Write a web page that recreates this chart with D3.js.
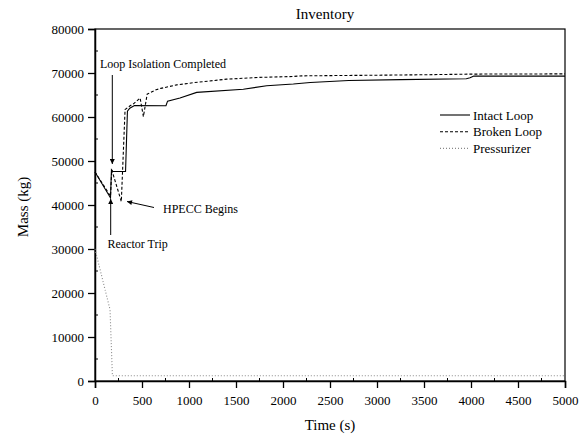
<!DOCTYPE html>
<html><head><meta charset="utf-8">
<script src="https://cdn.jsdelivr.net/npm/d3@7"></script>
<style>body{margin:0;background:#fff}svg{display:block}svg text{font-family:"Liberation Serif",serif !important;fill:#000}</style>
</head><body>
<script>
const title = "Inventory";
const xLabel = "Time (s)";
const yLabel = "Mass (kg)";
const xTicks = [0,500,1000,1500,2000,2500,3000,3500,4000,4500,5000];
const yTicks = [0,10000,20000,30000,40000,50000,60000,70000,80000];
const seriesNames = ["Intact Loop","Broken Loop","Pressurizer"];
const intactT = [0,165,175,190,325,345,370,420,755,772,904,1082,1578,1826,2110,2290,2700,3250,3950,3990,4030,5000];
const intactM = [47500,41600,48000,47600,47600,61300,62000,62600,62550,63600,64300,65600,66300,67100,67500,67850,68300,68500,68700,68900,69300,69300];
const brokenT = [0,165,178,280,320,370,410,480,515,555,650,700,870,1050,1400,1750,2100,2200,3000,3500,4000,5000];
const brokenM = [47500,42000,48000,40800,61700,62500,63000,64300,60100,65200,66200,66500,67300,67800,68600,69000,69200,69350,69500,69600,69750,69800];
const przT = [0,160,185,5000];
const przM = [30000,16200,1200,1200];

const W=586,H=434;
const m={l:95,r:565,t:29,b:381};
const svg=d3.select("body").append("svg").attr("width",W).attr("height",H);
const x=d3.scaleLinear().domain([0,5000]).range([m.l,m.r]);
const y=d3.scaleLinear().domain([0,80000]).range([m.b,m.t]);

svg.append("rect").attr("x",m.l).attr("y",m.t).attr("width",m.r-m.l).attr("height",m.b-m.t)
  .attr("fill","none").attr("stroke","#000").attr("stroke-width",1.2);

const xa=svg.append("g").attr("transform",`translate(0,${m.b})`)
  .call(d3.axisBottom(x).tickValues(xTicks).tickSize(7).tickFormat(d3.format("d")));
const ya=svg.append("g").attr("transform",`translate(${m.l},0)`)
  .call(d3.axisLeft(y).tickValues(yTicks).tickSize(7).tickFormat(d3.format("d")));
[xa,ya].forEach(g=>{g.attr("font-family",null).attr("font-size",null);
  g.select(".domain").attr("stroke","#000").attr("stroke-width",1.5);
  g.selectAll(".tick line").attr("stroke","#000").attr("stroke-width",1.3);
  g.selectAll("text").style("font-size","13px").style("font-family","'Liberation Serif',serif");});
xa.selectAll("text").attr("dy","1.05em");
ya.selectAll("text").attr("x",-11);
const xMinor=d3.range(250,5000,500), yMinor=d3.range(5000,80000,10000);
svg.append("g").selectAll("line").data(xMinor).join("line")
  .attr("x1",d=>x(d)).attr("x2",d=>x(d)).attr("y1",m.b).attr("y2",m.b-3).attr("stroke","#000");
svg.append("g").selectAll("line").data(yMinor).join("line")
  .attr("y1",d=>y(d)).attr("y2",d=>y(d)).attr("x1",m.l).attr("x2",m.l+3).attr("stroke","#000");

const line=d3.line().x(d=>x(d[0])).y(d=>y(d[1]));
const zip=(a,b)=>a.map((v,i)=>[v,b[i]]);
const styles=[{c:"#000",d:null,w:1.1},{c:"#000",d:"3,2",w:1.1},{c:"#888",d:"1,2",w:1.1}];
const data=[zip(intactT,intactM),zip(brokenT,brokenM),zip(przT,przM)];
data.forEach((s,i)=>{
  svg.append("path").attr("d",line(s)).attr("fill","none").attr("stroke",styles[i].c)
    .attr("stroke-width",styles[i].w).attr("stroke-dasharray",styles[i].d);
});

svg.append("text").attr("x",325).attr("y",19).attr("text-anchor","middle").style("font-size","15px").text(title);
svg.append("text").attr("x",330).attr("y",430).attr("text-anchor","middle").style("font-size","15px").text(xLabel);
svg.append("text").attr("transform","translate(28,207) rotate(-90)").attr("text-anchor","middle").style("font-size","15px").text(yLabel);

const lg=svg.append("g");
seriesNames.forEach((n,i)=>{
  const yy=115+i*16.7;
  lg.append("line").attr("x1",440).attr("x2",470).attr("y1",yy).attr("y2",yy)
    .attr("stroke",styles[i].c).attr("stroke-width",1.1).attr("stroke-dasharray",styles[i].d);
  lg.append("text").attr("x",473).attr("y",yy+4.5).style("font-size","13px").text(n);
});

svg.append("defs").append("marker").attr("id","ah").attr("viewBox","0 0 10 10").attr("refX",10).attr("refY",5)
  .attr("markerWidth",7).attr("markerHeight",5).attr("markerUnits","userSpaceOnUse").attr("orient","auto")
  .append("path").attr("d","M0,0L10,5L0,10z").attr("fill","#000");
const ann=[
  {text:"Loop Isolation Completed",tx:100,ty:68,x1:112.3,y1:75,x2:112.3,y2:164},
  {text:"HPECC Begins",tx:163,ty:213,x1:154,y1:207.5,x2:127,y2:201.5},
  {text:"Reactor Trip",tx:107.5,ty:248,x1:110.7,y1:235,x2:110.7,y2:199}
];
ann.forEach(a=>{
  svg.append("text").attr("x",a.tx).attr("y",a.ty).style("font-size","12px").text(a.text);
  svg.append("line").attr("x1",a.x1).attr("y1",a.y1).attr("x2",a.x2).attr("y2",a.y2)
    .attr("stroke","#000").attr("stroke-width",1).attr("marker-end","url(#ah)");
});
</script>
</body></html>
